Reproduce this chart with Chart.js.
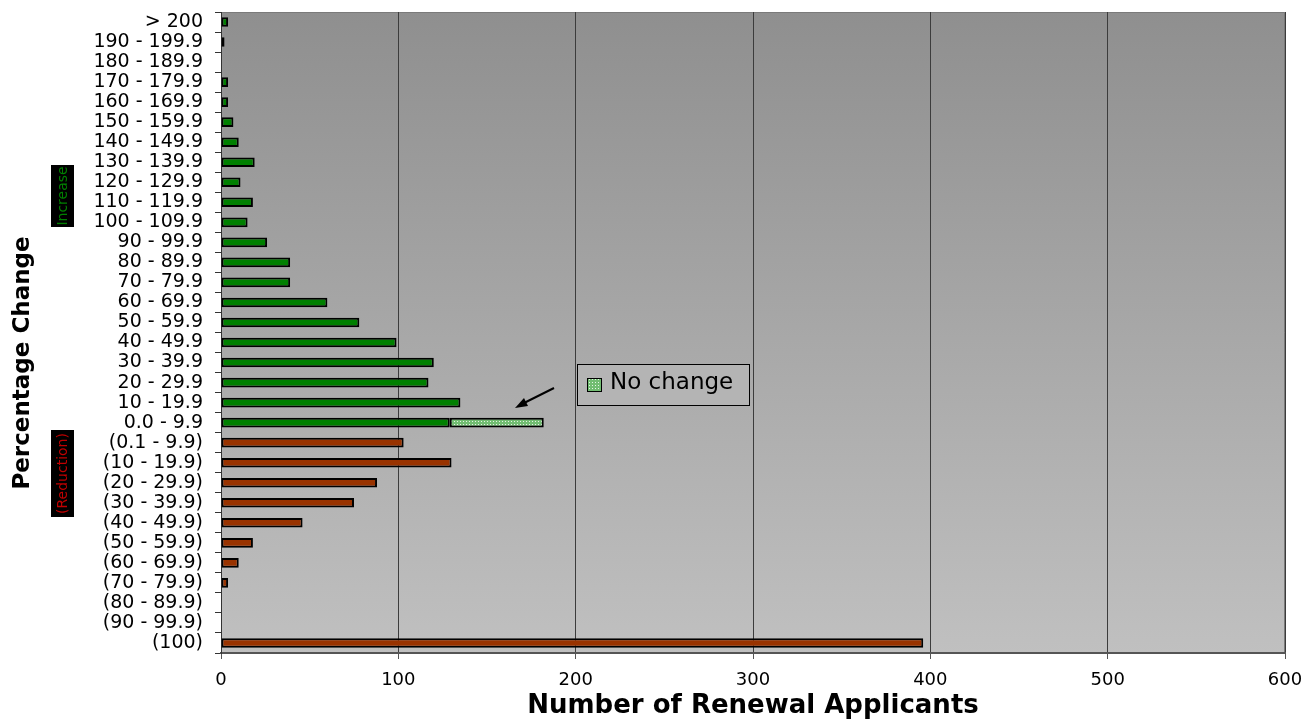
<!DOCTYPE html>
<html>
<head>
<meta charset="utf-8">
<script src="https://cdn.jsdelivr.net/npm/chart.js@4.4.1/dist/chart.umd.min.js"></script>
<style>
  html, body { margin: 0; padding: 0; background: #fff; }
  #wrap { width: 1315px; height: 723px; position: relative; }
</style>
</head>
<body>
<div id="wrap"><canvas id="chart"></canvas></div>
<script>
// percentage change bands, top to bottom
const categories = [
  '> 200', '190 - 199.9', '180 - 189.9', '170 - 179.9', '160 - 169.9',
  '150 - 159.9', '140 - 149.9', '130 - 139.9', '120 - 129.9', '110 - 119.9',
  '100 - 109.9', '90 - 99.9', '80 - 89.9', '70 - 79.9', '60 - 69.9',
  '50 - 59.9', '40 - 49.9', '30 - 39.9', '20 - 29.9', '10 - 19.9',
  '0.0 - 9.9', '(0.1 - 9.9)', '(10 - 19.9)', '(20 - 29.9)', '(30 - 39.9)',
  '(40 - 49.9)', '(50 - 59.9)', '(60 - 69.9)', '(70 - 79.9)', '(80 - 89.9)',
  '(90 - 99.9)', '(100)'
];

// applicants with an increase (null where the band is a reduction)
const increaseValues = [
  4, 2, 0, 4, 4, 7, 10, 19, 11, 18,
  15, 26, 39, 39, 60, 78, 99, 120, 117, 135,
  129, null, null, null, null, null, null, null, null, null,
  null, null
];

// applicants with a reduction
const reductionValues = [
  null, null, null, null, null, null, null, null, null, null,
  null, null, null, null, null, null, null, null, null, null,
  null, 103, 130, 88, 75, 46, 18, 10, 4, 0,
  0, 396
];

// no change, stacked on the 0.0 - 9.9 band
const noChangeValues = categories.map(c => c === '0.0 - 9.9' ? 53 : null);

const xTicks = [0, 100, 200, 300, 400, 500, 600];

const FONT = '"DejaVu Sans", Verdana, sans-serif';

// dotted light green fill for the "No change" bar
function makeDotPattern() {
  const c = document.createElement('canvas');
  c.width = 3; c.height = 3;
  const g = c.getContext('2d');
  g.fillStyle = '#72bd72';
  g.fillRect(0, 0, 3, 3);
  g.fillStyle = '#e4f5e4';
  g.fillRect(1, 1, 1, 1);
  return c.getContext('2d').createPattern(c, 'repeat');
}
const dotPattern = makeDotPattern();

// gradient plot background + frame
const plotBackground = {
  id: 'plotBackground',
  beforeDraw(chart) {
    const { ctx, chartArea: a } = chart;
    const grad = ctx.createLinearGradient(0, a.top, 0, a.bottom);
    grad.addColorStop(0, '#8f8f8f');
    grad.addColorStop(1, '#c0c0c0');
    ctx.save();
    ctx.fillStyle = grad;
    ctx.fillRect(a.left, a.top, a.right - a.left, a.bottom - a.top);
    ctx.strokeStyle = '#7a7a7a';
    ctx.lineWidth = 1;
    ctx.beginPath();
    ctx.moveTo(a.left, a.top + 0.5);
    ctx.lineTo(a.right - 0.5, a.top + 0.5);
    ctx.lineTo(a.right - 0.5, a.bottom);
    ctx.stroke();
    ctx.restore();
  }
};

// side labels, y title, legend box and arrow
const annotations = {
  id: 'annotations',
  afterDraw(chart) {
    const { ctx } = chart;
    ctx.save();

    // y axis title
    ctx.save();
    ctx.translate(23, 363);
    ctx.rotate(-Math.PI / 2);
    ctx.font = 'bold 23px ' + FONT;
    ctx.fillStyle = '#000';
    ctx.textAlign = 'center';
    ctx.textBaseline = 'middle';
    ctx.fillText('Percentage Change', 0, 0);
    ctx.restore();

    // Increase / (Reduction) tags
    const tags = [
      { text: 'Increase', color: '#008000', top: 165, bottom: 227 },
      { text: '(Reduction)', color: '#c00000', top: 430, bottom: 517 }
    ];
    tags.forEach(t => {
      ctx.fillStyle = '#000';
      ctx.fillRect(51, t.top, 23, t.bottom - t.top);
      ctx.save();
      ctx.translate(63, (t.top + t.bottom) / 2);
      ctx.rotate(-Math.PI / 2);
      ctx.font = '14px ' + FONT;
      ctx.fillStyle = t.color;
      ctx.textAlign = 'center';
      ctx.textBaseline = 'middle';
      ctx.fillText(t.text, 0, 0);
      ctx.restore();
    });

    // legend box
    const lx = 577, ly = 364, lw = 172, lh = 41;
    ctx.fillStyle = '#b4b4b4';
    ctx.fillRect(lx, ly, lw, lh);
    ctx.strokeStyle = '#000';
    ctx.lineWidth = 1;
    ctx.strokeRect(lx + 0.5, ly + 0.5, lw, lh);
    ctx.fillStyle = dotPattern;
    ctx.fillRect(587, 378, 15, 14);
    ctx.strokeRect(587.5, 378.5, 14, 13);
    ctx.fillStyle = '#000';
    ctx.font = '23px ' + FONT;
    ctx.textAlign = 'left';
    ctx.textBaseline = 'middle';
    ctx.fillText('No change', 610, 383);

    // arrow pointing at the no change bar
    ctx.strokeStyle = '#000';
    ctx.lineWidth = 2;
    ctx.beginPath();
    ctx.moveTo(554, 388);
    ctx.lineTo(520, 405);
    ctx.stroke();
    ctx.beginPath();
    ctx.moveTo(515, 408);
    ctx.lineTo(524, 398);
    ctx.lineTo(528, 406);
    ctx.closePath();
    ctx.fillStyle = '#000';
    ctx.fill();

    ctx.restore();
  }
};

const barCommon = {
  borderColor: '#000',
  borderWidth: 2,
  borderSkipped: false,
  barPercentage: 0.48,
  categoryPercentage: 1.0
};

new Chart(document.getElementById('chart'), {
  type: 'bar',
  data: {
    labels: categories,
    datasets: [
      Object.assign({ label: 'Increase', data: increaseValues, backgroundColor: '#008000' }, barCommon),
      Object.assign({ label: 'Reduction', data: reductionValues, backgroundColor: '#993300' }, barCommon),
      Object.assign({ label: 'No change', data: noChangeValues, backgroundColor: dotPattern }, barCommon)
    ]
  },
  options: {
    indexAxis: 'y',
    responsive: true,
    maintainAspectRatio: false,
    animation: false,
    layout: { padding: { top: 12, right: 30, left: 0, bottom: 0 } },
    plugins: {
      legend: { display: false },
      tooltip: { enabled: false }
    },
    scales: {
      x: {
        stacked: true,
        min: 0,
        max: 600,
        afterBuildTicks(scale) {
          scale.ticks = xTicks.map(v => ({ value: v }));
        },
        afterFit(scale) { scale.height = 70; },
        grid: {
          color: '#3c3c3c',
          lineWidth: 1,
          drawTicks: true,
          tickLength: 6,
          tickColor: '#555'
        },
        border: { color: '#555', width: 2 },
        ticks: {
          color: '#000',
          padding: 11,
          font: { family: FONT, size: 18 }
        },
        title: {
          display: true,
          text: 'Number of Renewal Applicants',
          color: '#000',
          padding: { top: 0, bottom: 1 },
          font: { family: FONT, size: 26, weight: 'bold' }
        }
      },
      y: {
        stacked: true,
        afterFit(scale) {
          scale.width = 221;
          scale.paddingTop = 0;
          scale.paddingBottom = 0;
        },
        grid: {
          drawOnChartArea: false,
          drawTicks: true,
          tickLength: 6,
          tickColor: '#333',
          offset: true
        },
        border: { color: '#333', width: 1 },
        ticks: {
          color: '#000',
          padding: 12,
          autoSkip: false,
          font: { family: FONT, size: 19 }
        }
      }
    }
  },
  plugins: [plotBackground, annotations]
});
</script>
</body>
</html>
